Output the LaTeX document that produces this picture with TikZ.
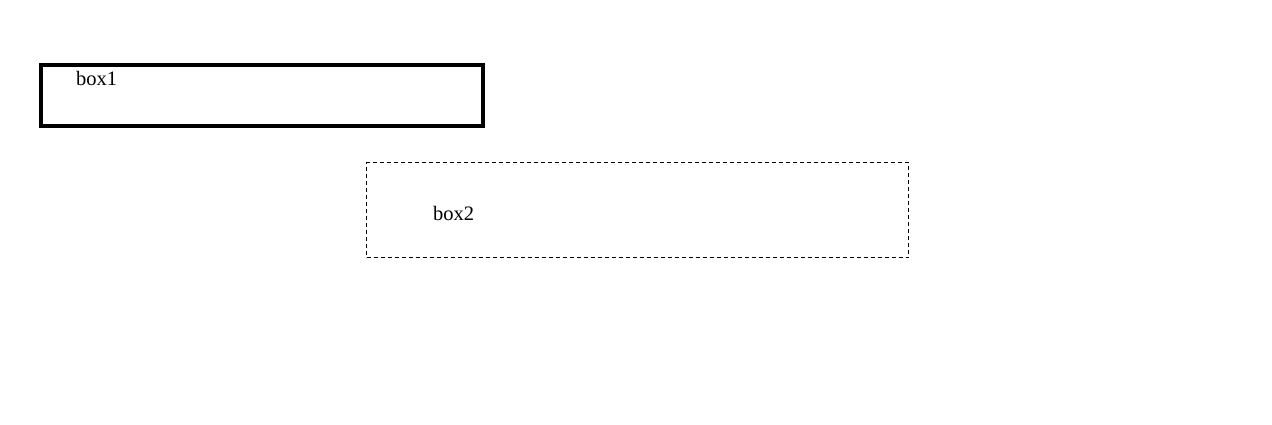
\documentclass[tikz,border=0pt]{standalone}
\usepackage{fontspec}
\setmainfont{Liberation Serif}
\begin{document}
\begin{tikzpicture}[x=1pt,y=-1pt,
  boxa/.style={draw,line width=4pt,minimum width=442pt,minimum height=61pt,inner sep=0pt,anchor=north west},
  boxb/.style={draw,line width=1.2pt,dash pattern=on 4pt off 3pt,minimum width=542pt,minimum height=95pt,inner sep=0pt,anchor=north west},
  lbl/.style={font=\fontsize{20.5}{24}\selectfont,inner sep=0pt,anchor=base west}]
\useasboundingbox (0,0) rectangle (1272,424);
\node[boxa] (b1) at (38.5,62.5) {};
\node[boxb] (b2) at (366,162) {};
\node[lbl] (t1) at (76,85) {box1};
\node[lbl] (t2) at (433,220) {box2};
\end{tikzpicture}
\end{document}
